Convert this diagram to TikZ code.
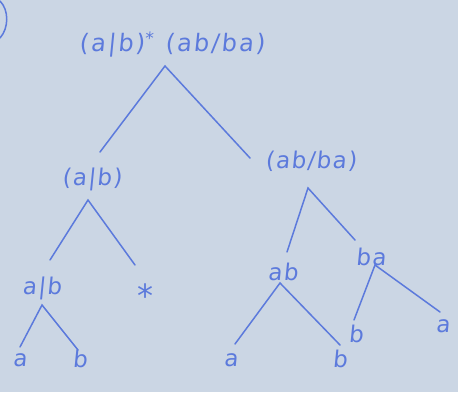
\documentclass[tikz,border=0pt]{standalone}
\usepackage{fontspec}
\setmainfont{DejaVu Sans}
\definecolor{board}{RGB}{203,214,228}
\definecolor{ink}{RGB}{92,122,220}
\begin{document}
\begin{tikzpicture}[x=1pt,y=-1pt,
  lbl/.style={text=ink,font=\fontsize{23}{26}\selectfont\addfontfeature{FakeSlant=0.1,LetterSpace=6},inner sep=1pt},
  edge/.style={draw=ink,line width=1.5pt,line cap=round}]
\fill[board] (0,0) rectangle (458,392);
\useasboundingbox (0,0) rectangle (458,392);
% stray bracket at corner
\draw[edge] (0,1) .. controls (9,10) and (9,28) .. (0,38);
% labels
\node[lbl,font=\fontsize{24}{26}\selectfont\addfontfeature{FakeSlant=0.1,LetterSpace=9}] (root) at (172,45) {(a|b)\raisebox{7pt}{\fontsize{17}{17}\selectfont *}\hspace{12pt}(ab/ba)};
\node[lbl] (l1) at (92,179) {(a|b)};
\node[lbl] (r1) at (311,161) {(ab/ba)};
\node[lbl] (l2) at (42,288) {a|b};
\node[lbl,font=\fontsize{32}{32}\selectfont] (star) at (145,296) {*};
\node[lbl] (ab) at (283,272) {ab};
\node[lbl] (ba) at (371,257) {ba};
\node[lbl] (la) at (20,360) {a};
\node[lbl] (lb) at (80,359) {b};
\node[lbl] (ra) at (231,360) {a};
\node[lbl] (rb) at (340,359) {b};
\node[lbl] (bb) at (356,334) {b};
\node[lbl] (ba2) at (443,326) {a};
% apex coordinates
\coordinate (p0) at (165,66);
\coordinate (p1) at (88,200);
\coordinate (p2) at (308,188);
\coordinate (p3) at (42,305);
\coordinate (p4) at (280,283);
\coordinate (p5) at (375,265);
% edges
\draw[edge] (100,152) -- (p0) -- (250,158);
\draw[edge] (50,260) -- (p1) -- (135,265);
\draw[edge] (287,252) -- (p2) -- (355,240);
\draw[edge] (20,347) -- (p3) -- (78,350);
\draw[edge] (235,344) -- (p4) -- (340,345);
\draw[edge] (354,320) -- (p5) -- (440,312);
\end{tikzpicture}
\end{document}
